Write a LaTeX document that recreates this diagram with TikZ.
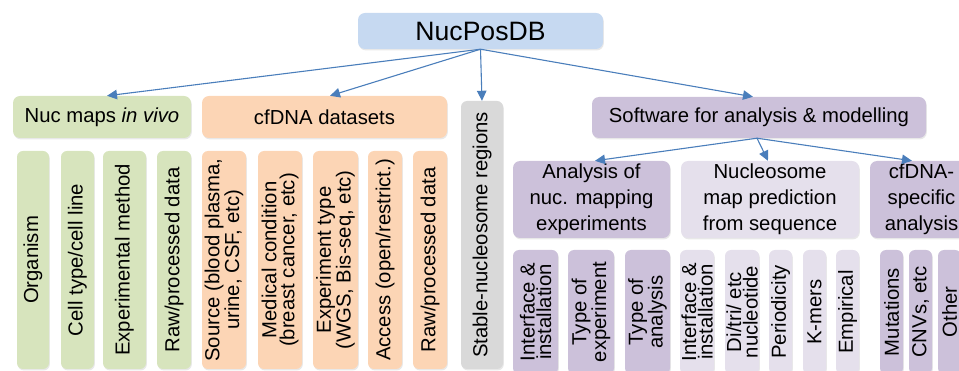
\documentclass[tikz,border=0pt]{standalone}
\usepackage{fontspec}
\setmainfont{Liberation Sans}
\usetikzlibrary{arrows.meta,shadows}
\definecolor{cblue}{RGB}{198,217,241}
\definecolor{cgreen}{RGB}{215,228,189}
\definecolor{corange}{RGB}{252,213,181}
\definecolor{cgrey}{RGB}{217,217,217}
\definecolor{cpurple}{RGB}{204,193,218}
\definecolor{clight}{RGB}{229,224,236}
\definecolor{carrow}{RGB}{74,126,187}
\tikzset{
  boxbase/.style={draw=none, rounded corners=7pt, inner sep=0pt, align=center,
    drop shadow={shadow xshift=0.8pt, shadow yshift=-1.4pt, opacity=0.18}},
  topbox/.style={boxbase, font=\fontsize{20.3}{26}\selectfont},
  colbox/.style={boxbase, rotate=90, rounded corners=6pt, font=\fontsize{20.3}{18}\selectfont},
  colboxr/.style={colbox, font=\fontsize{20.3}{16.5}\selectfont},
  conn/.style={draw=carrow, line width=1.1pt, -{Triangle[length=10pt,width=9.5pt]}, fill=none}
}
\begin{document}
\begin{tikzpicture}[x=1pt,y=-1pt]
\useasboundingbox (0,0) rectangle (959,371);
\clip (0,0) rectangle (959,371);
% top level
\node[topbox, fill=cblue, minimum width=245pt, minimum height=36pt, font=\fontsize{26.6}{30}\selectfont] (root) at (480.5,31) {NucPosDB};
\node[topbox, fill=cgreen, minimum width=178pt, minimum height=42pt] (nucmaps) at (102,117) {Nuc maps \textit{in vivo}};
\node[topbox, fill=corange, minimum width=245pt, minimum height=42pt] (cfdna) at (324.5,117) {cfDNA datasets};
\node[colbox, fill=cgrey, minimum width=268pt, minimum height=42pt] (stable) at (482,235) {Stable-nucleosome regions};
\node[topbox, fill=cpurple, minimum width=334pt, minimum height=41pt] (soft) at (759,117.5) {Software for analysis \& modelling};
% software sub-groups
\node[topbox, fill=cpurple, minimum width=157pt, minimum height=77pt] (anal) at (591.5,199.5) {Analysis of\\nuc. mapping\\experiments};
\node[topbox, fill=clight, minimum width=178pt, minimum height=77pt] (pred) at (770,199.5) {Nucleosome\\map prediction\\from sequence};
\node[topbox, fill=cpurple, minimum width=103pt, minimum height=77pt] (spec) at (921.5,199.5) {cfDNA-\\specific\\analysis};
% green columns
\node[colbox, fill=cgreen, minimum width=218pt, minimum height=32pt] (g1) at (33,260) {Organism};
\node[colbox, fill=cgreen, minimum width=218pt, minimum height=33pt] (g2) at (77.5,260) {Cell type/cell line};
\node[colbox, fill=cgreen, minimum width=218pt, minimum height=43pt] (g3) at (124.5,260) {Experimental method};
\node[colbox, fill=cgreen, minimum width=218pt, minimum height=34pt] (g4) at (174,260) {Raw/processed data};
% orange columns
\node[colbox, fill=corange, minimum width=218pt, minimum height=44pt] (o1) at (224,260) {Source (blood plasma,\\urine, CSF, etc)};
\node[colbox, fill=corange, minimum width=218pt, minimum height=44pt] (o2) at (280,260) {Medical condition\\(breast cancer, etc)};
\node[colbox, fill=corange, minimum width=218pt, minimum height=45pt] (o3) at (335.5,260) {Experiment type\\(WGS, Bis-seq, etc)};
\node[colbox, fill=corange, minimum width=218pt, minimum height=34pt] (o4) at (385,260) {Access (open/restrict.)};
\node[colbox, fill=corange, minimum width=218pt, minimum height=34pt] (o5) at (430,260) {Raw/processed data};
% analysis columns
\node[colboxr, fill=cpurple, minimum width=124pt, minimum height=45pt] (a1) at (535.5,312) {Interface \&\\installation};
\node[colboxr, fill=cpurple, minimum width=124pt, minimum height=46pt] (a2) at (591,312) {Type of\\experiment};
\node[colboxr, fill=cpurple, minimum width=124pt, minimum height=45pt] (a3) at (647.5,312) {Type of\\analysis};
% prediction columns
\node[colboxr, fill=clight, minimum width=124pt, minimum height=34pt] (p1) at (697,312) {Interface \&\\installation};
\node[colboxr, fill=clight, minimum width=124pt, minimum height=34pt] (p2) at (742,312) {Di/tri/ etc\\nucleotide};
\node[colboxr, fill=clight, minimum width=124pt, minimum height=23pt] (p3) at (780.5,312) {Periodicity};
\node[colboxr, fill=clight, minimum width=124pt, minimum height=23pt] (p4) at (814.5,312) {K-mers};
\node[colboxr, fill=clight, minimum width=124pt, minimum height=23pt] (p5) at (847.5,312) {Empirical};
% cfDNA-specific columns
\node[colboxr, fill=cpurple, minimum width=124pt, minimum height=23pt] (s1) at (891.5,312) {Mutations};
\node[colboxr, fill=cpurple, minimum width=124pt, minimum height=23pt] (s2) at (920.5,312) {CNVs, etc};
\node[colboxr, fill=cpurple, minimum width=124pt, minimum height=23pt] (s3) at (949.5,312) {Other};
% connectors
\draw[conn] (root.south) -- ([xshift=5pt]nucmaps.north);
\draw[conn] (root.south) -- ([xshift=5.5pt]cfdna.north);
\draw[conn] (root.south) -- (stable.east);
\draw[conn] (root.south) -- ([xshift=-6pt]soft.north);
\draw[conn] ([xshift=-2pt]soft.south) -- ([xshift=3.5pt]anal.north);
\draw[conn] ([xshift=-2pt]soft.south) -- ([xshift=-2pt]pred.north);
\draw[conn] ([xshift=-2pt]soft.south) -- ([xshift=-9.5pt]spec.north);
\end{tikzpicture}
\end{document}
